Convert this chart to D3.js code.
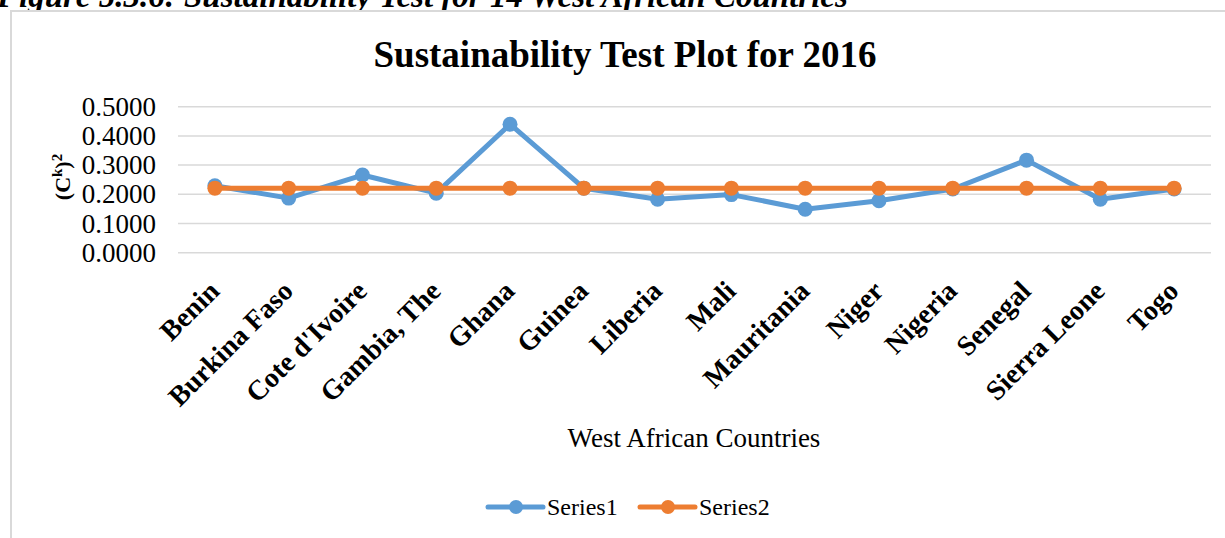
<!DOCTYPE html>
<html><head><meta charset="utf-8">
<script src="https://cdn.jsdelivr.net/npm/d3@7"></script>
<style>html,body{margin:0;padding:0;background:#fff;overflow:hidden}</style>
</head><body>
<svg id="c" width="1225" height="538"></svg>
<script>
const categories = ["Benin","Burkina Faso","Cote d'Ivoire","Gambia, The","Ghana","Guinea","Liberia","Mali","Mauritania","Niger","Nigeria","Senegal","Sierra Leone","Togo"];
const series1 = [0.229,0.187,0.266,0.204,0.440,0.221,0.183,0.199,0.149,0.178,0.218,0.317,0.183,0.218];
const series2 = [0.221,0.221,0.221,0.221,0.221,0.221,0.221,0.221,0.221,0.221,0.221,0.221,0.221,0.221];
const yTicks = [0,0.1,0.2,0.3,0.4,0.5];
const seriesNames = ["Series1","Series2"];
const colors = ["#5b9bd5","#ed7d31"];

const svg = d3.select("#c");
const serif = "'Liberation Serif','Times New Roman',serif";

// caption (cut off at top, as in the reference)
svg.append("text").attr("x",-3).attr("y",7)
  .attr("font-family",serif).attr("font-size",33).attr("font-style","italic").attr("font-weight","bold")
  .text("Figure 5.3.6: Sustainability Test for 14 West African Countries");

// frame
svg.append("rect").attr("x",11).attr("y",11).attr("width",1400).attr("height",700)
  .attr("fill","#fff").attr("stroke","#d9d9d9").attr("stroke-width",2);

const x = d3.scaleBand().domain(categories).range([178,1211]);
const y = d3.scaleLinear().domain([0,0.5]).range([252.7,106.7]);

// gridlines
svg.append("g").selectAll("line").data(yTicks).join("line")
  .attr("x1",178).attr("x2",1211)
  .attr("y1",d=>y(d)).attr("y2",d=>y(d))
  .attr("stroke","#d9d9d9").attr("stroke-width",1.5);

// y axis
const yAxis = svg.append("g").attr("transform","translate(178,0)")
  .call(d3.axisLeft(y).tickValues(yTicks).tickFormat(d3.format(".4f")).tickSize(0).tickPadding(22));
yAxis.select(".domain").remove();
yAxis.selectAll("text").attr("font-family",serif).attr("font-size",27).attr("fill","#000");

// x axis labels
const xAxis = svg.append("g").attr("transform","translate(0,252.7)")
  .call(d3.axisBottom(x).tickSize(0).tickFormat(d=>d));
xAxis.select(".domain").remove();
xAxis.selectAll("text")
  .attr("font-family",serif).attr("font-size",28).attr("font-weight","bold").attr("fill","#000")
  .attr("text-anchor","end").attr("dy",null).attr("y",0)
  .attr("transform","translate(6,40) rotate(-45)");

// title
svg.append("text").attr("x",625).attr("y",67).attr("text-anchor","middle")
  .attr("font-family",serif).attr("font-size",37).attr("font-weight","bold")
  .text("Sustainability Test Plot for 2016");

// y title
const yt = svg.append("text").attr("transform","translate(70,177) rotate(-90)")
  .attr("text-anchor","middle").attr("font-family",serif).attr("font-size",22).attr("font-weight","bold");
yt.append("tspan").text("(C");
yt.append("tspan").attr("font-size",15).attr("dy",-8).text("k");
yt.append("tspan").attr("dy",8).text(")");
yt.append("tspan").attr("font-size",15).attr("dy",-8).text("2");

// x title
svg.append("text").attr("x",694).attr("y",447).attr("text-anchor","middle")
  .attr("font-family",serif).attr("font-size",27).text("West African Countries");

// lines
const cx = d => x(d) + x.bandwidth()/2;
[series1, series2].forEach((s,i)=>{
  const line = d3.line().x((d,j)=>cx(categories[j])).y(d=>y(d));
  svg.append("path").datum(s).attr("d",line).attr("fill","none")
    .attr("stroke",colors[i]).attr("stroke-width",5).attr("stroke-linejoin","round").attr("stroke-linecap","round");
  svg.append("g").selectAll("circle").data(s).join("circle")
    .attr("cx",(d,j)=>cx(categories[j])).attr("cy",d=>y(d)).attr("r",7.5).attr("fill",colors[i]);
});

// legend
const legX = [488, 640];
seriesNames.forEach((n,i)=>{
  const g = svg.append("g").attr("transform",`translate(${legX[i]},507)`);
  g.append("line").attr("x1",0).attr("x2",55).attr("y1",0).attr("y2",0)
    .attr("stroke",colors[i]).attr("stroke-width",5).attr("stroke-linecap","round");
  g.append("circle").attr("cx",28).attr("cy",0).attr("r",7).attr("fill",colors[i]);
  g.append("text").attr("x",59).attr("y",8).attr("font-family",serif).attr("font-size",24).text(n);
});
</script>
</body></html>
